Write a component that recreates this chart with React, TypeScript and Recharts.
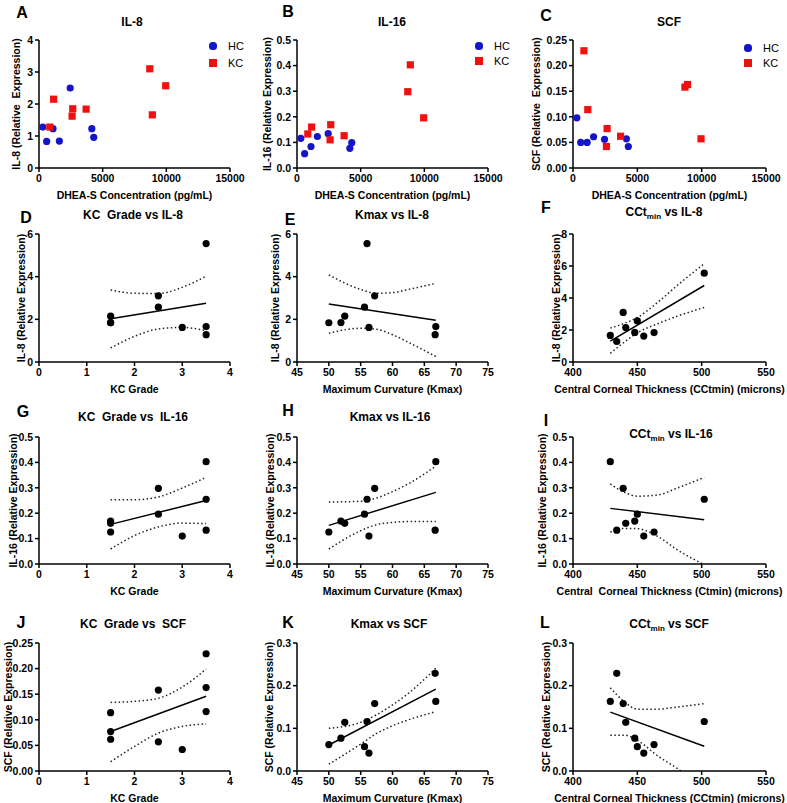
import { ComposedChart, Line, Scatter, XAxis, YAxis } from 'recharts'

// healthy controls, panels A-C
const hcDhea = [300, 600, 1100, 1600, 2450, 4150, 4300]
const hcIl8 = [1.28, 0.83, 1.23, 0.84, 2.5, 1.23, 0.96]
const hcIl16 = [0.116, 0.056, 0.084, 0.123, 0.134, 0.077, 0.099]
const hcScf = [0.098, 0.05, 0.05, 0.061, 0.056, 0.057, 0.042]

// keratoconus patients (one entry per patient, no DHEA-S for the 5th)
const kcDhea = [3700, 2650, 1150, 9950, null, 2600, 8700, 8900, 850]
const kcGrade = [1.5, 1.5, 1.5, 2.5, 3.5, 3, 2.5, 3.5, 3.5]
const kcKmax = [50, 51.9, 52.5, 55.6, 56, 56.3, 57.2, 66.8, 66.7]
const kcCct = [463, 448, 441, 450, 502, 455, 439, 429, 434]
const kcIl8 = [1.84, 1.85, 2.15, 2.57, 5.55, 1.62, 3.1, 1.66, 1.28]
const kcIl16 = [0.126, 0.169, 0.16, 0.196, 0.255, 0.11, 0.298, 0.403, 0.133]
const kcScf = [0.062, 0.077, 0.114, 0.057, 0.116, 0.042, 0.158, 0.163, 0.229]

// regression lines + 95% bands
const gradeFitX = [1.5, 3.5]
const kmaxFitX = [50, 66.8]
const cctFitX = [429, 502]
const gradeBandX = [1.5, 2, 2.5, 3, 3.5]
const kmaxBandX = [50, 55, 57.5, 60, 62.5, 66.8]
const cctBandX = [429, 440, 450, 466, 481, 502]

const fitGradeIl8 = [2.03, 2.75]
const upGradeIl8 = [3.38, 3.22, 3.21, 3.5, 4.02]
const loGradeIl8 = [0.66, 1.2, 1.55, 1.62, 1.47]
const fitKmaxIl8 = [2.72, 1.96]
const upKmaxIl8 = [4.08, 3.4, 3.22, 3.25, 3.4, 3.69]
const loKmaxIl8 = [1.35, 1.58, 1.53, 1.28, 0.92, 0.26]
const fitCctIl8 = [1.31, 4.78]
const upCctIl8 = [2.12, 2.42, 2.78, 3.74, 4.78, 6.15]
const loCctIl8 = [0.54, 1.25, 1.82, 2.4, 2.86, 3.41]

const fitGradeIl16 = [0.156, 0.25]
const upGradeIl16 = [0.253, 0.253, 0.264, 0.299, 0.341]
const loGradeIl16 = [0.059, 0.112, 0.146, 0.161, 0.159]
const fitKmaxIl16 = [0.152, 0.282]
const upKmaxIl16 = [0.244, 0.247, 0.26, 0.285, 0.316, 0.385]
const loKmaxIl16 = [0.059, 0.131, 0.155, 0.164, 0.167, 0.167]
const fitCctIl16 = [0.219, 0.174]
const upCctIl16 = [0.315, 0.282, 0.267, 0.272, 0.299, 0.341]
const loCctIl16 = [0.126, 0.14, 0.139, 0.108, 0.056, -0.003]

const fitGradeScf = [0.077, 0.146]
const upGradeScf = [0.134, 0.136, 0.142, 0.164, 0.199]
const loGradeScf = [0.018, 0.048, 0.074, 0.087, 0.092]
const fitKmaxScf = [0.061, 0.192]
const upKmaxScf = [0.1, 0.114, 0.132, 0.155, 0.182, 0.241]
const loKmaxScf = [0.016, 0.063, 0.088, 0.106, 0.12, 0.139]
const fitCctScf = [0.138, 0.058]
const upCctScf = [0.195, 0.162, 0.145, 0.145, 0.15, 0.158]
const loCctScf = [0.084, 0.084, 0.072, 0.035, 0.006, -0.045]

type Pt = { x: number, y: number }

const pts = (xs: (number | null)[], ys: number[]): Pt[] =>
  xs.flatMap((x, i) => (x == null ? [] : [{ x, y: ys[i] }]))

const FONT = '"Liberation Sans", Arial, Helvetica, sans-serif'
const BLUE = '#1414c8'
const RED = '#f01010'

const YW = 60
const MT = 6
const MR = 20
const XH = 42

const cols = [{ left: 39, right: 230 }, { left: 297, right: 488 }, { left: 573, right: 766 }]
const rows = [{ top: 40, bottom: 168 }, { top: 234, bottom: 362 }, { top: 437, bottom: 564 }, { top: 643, bottom: 771 }]

const axisStyle = { stroke: '#000', strokeWidth: 1.5 }
const tickStyle = { fill: '#000', fontSize: 10.5, fontWeight: 700 }

const dot = (color: string) => (p: any) => <circle cx={p.cx} cy={p.cy} r={3.6} fill={color} />
const square = (color: string) => (p: any) => (
  <rect x={p.cx - 3.6} y={p.cy - 3.6} width={7.2} height={7.2} fill={color} />
)

type AxisDef = { domain: [number, number], ticks: number[], digits?: number }

const dheaAxis: AxisDef = { domain: [0, 15000], ticks: [0, 5000, 10000, 15000] }
const gradeAxis: AxisDef = { domain: [0, 4], ticks: [0, 1, 2, 3, 4] }
const kmaxAxis: AxisDef = { domain: [45, 75], ticks: [45, 50, 55, 60, 65, 70, 75] }
const cctAxis: AxisDef = { domain: [400, 550], ticks: [400, 450, 500, 550] }

interface PanelProps {
  col: number
  row: number
  x: AxisDef
  y: AxisDef
  xLabel: string
  yLabel: string
  yLabelX: number
  groups: { data: Pt[], color: string, square?: boolean }[]
  fit?: Pt[]
  upper?: Pt[]
  lower?: Pt[]
}

function Panel({ col, row, x, y, xLabel, yLabel, yLabelX, groups, fit, upper, lower }: PanelProps) {
  const c = cols[col]
  const r = rows[row]
  const w = c.right - c.left
  const h = r.bottom - r.top
  const left = c.left - YW
  const band = (data: Pt[]) => (
    <Line data={data} dataKey="y" type="monotone" stroke="#222" strokeWidth={1.5}
      strokeDasharray="1.5 2.5" dot={false} activeDot={false} isAnimationActive={false} />
  )
  return (
    <div style={{ position: 'absolute', left, top: r.top - MT }}>
      <ComposedChart width={w + YW + MR} height={h + MT + XH} margin={{ top: MT, right: MR, left: 0, bottom: 0 }}>
        <XAxis type="number" dataKey="x" domain={x.domain} ticks={x.ticks} interval={0} allowDataOverflow
          axisLine={axisStyle} tickLine={axisStyle} tickSize={4} tickMargin={3} tick={tickStyle} height={XH}
          label={{ value: xLabel, position: 'insideBottom', offset: 11, fill: '#000', fontSize: 10.5, fontWeight: 700 }} />
        <YAxis type="number" dataKey="y" domain={y.domain} ticks={y.ticks} interval={0} allowDataOverflow
          axisLine={axisStyle} tickLine={axisStyle} tickSize={4} tickMargin={2} tick={tickStyle} width={YW}
          tickFormatter={(v: number) => v.toFixed(y.digits ?? 0)}
          label={(p: any) => {
            const vb = p.viewBox
            const lx = yLabelX - left
            const cy = vb.y + vb.height / 2
            return (
              <text x={lx} y={cy} transform={`rotate(-90, ${lx}, ${cy})`} textAnchor="middle"
                dominantBaseline="central" fill="#000" fontSize={10.5} fontWeight={700}>
                {yLabel}
              </text>
            )
          }} />
        {upper && band(upper)}
        {lower && band(lower)}
        {fit && (
          <Line data={fit} dataKey="y" type="linear" stroke="#000" strokeWidth={1.5}
            dot={false} activeDot={false} isAnimationActive={false} />
        )}
        {groups.map((g, i) => (
          <Scatter key={i} data={g.data} shape={g.square ? square(g.color) : dot(g.color)} isAnimationActive={false} />
        ))}
      </ComposedChart>
    </div>
  )
}

function Text({ x, y, size, bold = true, children }: any) {
  return (
    <div style={{
      position: 'absolute', left: x, top: y, transform: 'translate(-50%, -50%)',
      fontSize: size, fontWeight: bold ? 700 : 400, whiteSpace: 'pre', lineHeight: 1,
    }}>
      {children}
    </div>
  )
}

function Legend({ x, y1, y2 }: { x: number, y1: number, y2: number }) {
  return (
    <>
      <div style={{ position: 'absolute', left: x - 3.6, top: y1 - 3.6, width: 7.2, height: 7.2, borderRadius: '50%', background: BLUE }} />
      <div style={{ position: 'absolute', left: x + 15, top: y1 - 6, fontSize: 11, lineHeight: '12px' }}>HC</div>
      <div style={{ position: 'absolute', left: x - 3.6, top: y2 - 3.6, width: 7.2, height: 7.2, background: RED }} />
      <div style={{ position: 'absolute', left: x + 15, top: y2 - 6, fontSize: 11, lineHeight: '12px' }}>KC</div>
    </>
  )
}

const Cct = ({ rest }: { rest: string }) => (
  <>CCt<sub style={{ fontSize: 8, lineHeight: 0 }}>min</sub>{rest}</>
)

export default function App() {
  const il8Label = 'IL-8 (Relative Expression)'
  const il16Label = 'IL-16 (Relative Expression)'
  const scfLabel = 'SCF (Relative Expression)'
  const y8: AxisDef = { domain: [0, 6], ticks: [0, 2, 4, 6] }
  const y16: AxisDef = { domain: [0, 0.5], ticks: [0, 0.1, 0.2, 0.3, 0.4, 0.5], digits: 1 }
  const yScf: AxisDef = { domain: [0, 0.25], ticks: [0, 0.05, 0.1, 0.15, 0.2, 0.25], digits: 2 }
  const yScf3: AxisDef = { domain: [0, 0.3], ticks: [0, 0.1, 0.2, 0.3], digits: 1 }
  const kc = (xs: number[], ys: number[]) => [{ data: pts(xs, ys), color: '#000' }]

  return (
    <div style={{ position: 'absolute', left: 0, top: 0, width: 787, height: 803, background: '#fff', fontFamily: FONT, color: '#000' }}>
      {/* row 1: DHEA-S */}
      <Panel col={0} row={0} x={dheaAxis} y={{ domain: [0, 4], ticks: [0, 1, 2, 3, 4] }}
        xLabel="DHEA-S Concentration (pg/mL)" yLabel={'IL-8 (Relative\u00a0 Expression)'} yLabelX={16}
        groups={[{ data: pts(hcDhea, hcIl8), color: BLUE }, { data: pts(kcDhea, kcIl8), color: RED, square: true }]} />
      <Panel col={1} row={0} x={dheaAxis} y={y16}
        xLabel="DHEA-S Concentration (pg/mL)" yLabel={il16Label} yLabelX={267}
        groups={[{ data: pts(hcDhea, hcIl16), color: BLUE }, { data: pts(kcDhea, kcIl16), color: RED, square: true }]} />
      <Panel col={2} row={0} x={dheaAxis} y={yScf}
        xLabel="DHEA-S Concentration (pg/mL)" yLabel={'SCF (Relative\u00a0 Expression)'} yLabelX={536}
        groups={[{ data: pts(hcDhea, hcScf), color: BLUE }, { data: pts(kcDhea, kcScf), color: RED, square: true }]} />

      {/* row 2: IL-8 */}
      <Panel col={0} row={1} x={gradeAxis} y={y8} xLabel="KC Grade" yLabel={il8Label} yLabelX={21}
        groups={kc(kcGrade, kcIl8)} fit={pts(gradeFitX, fitGradeIl8)}
        upper={pts(gradeBandX, upGradeIl8)} lower={pts(gradeBandX, loGradeIl8)} />
      <Panel col={1} row={1} x={kmaxAxis} y={y8} xLabel="Maximum Curvature (Kmax)" yLabel={il8Label} yLabelX={275}
        groups={kc(kcKmax, kcIl8)} fit={pts(kmaxFitX, fitKmaxIl8)}
        upper={pts(kmaxBandX, upKmaxIl8)} lower={pts(kmaxBandX, loKmaxIl8)} />
      <Panel col={2} row={1} x={cctAxis} y={{ domain: [0, 8], ticks: [0, 2, 4, 6, 8] }}
        xLabel="Central Corneal Thickness (CCtmin) (microns)" yLabel={il8Label} yLabelX={556}
        groups={kc(kcCct, kcIl8)} fit={pts(cctFitX, fitCctIl8)}
        upper={pts(cctBandX, upCctIl8)} lower={pts(cctBandX, loCctIl8)} />

      {/* row 3: IL-16 */}
      <Panel col={0} row={2} x={gradeAxis} y={y16} xLabel="KC Grade" yLabel={il16Label} yLabelX={13}
        groups={kc(kcGrade, kcIl16)} fit={pts(gradeFitX, fitGradeIl16)}
        upper={pts(gradeBandX, upGradeIl16)} lower={pts(gradeBandX, loGradeIl16)} />
      <Panel col={1} row={2} x={kmaxAxis} y={y16} xLabel="Maximum Curvature (Kmax)" yLabel={il16Label} yLabelX={270}
        groups={kc(kcKmax, kcIl16)} fit={pts(kmaxFitX, fitKmaxIl16)}
        upper={pts(kmaxBandX, upKmaxIl16)} lower={pts(kmaxBandX, loKmaxIl16)} />
      <Panel col={2} row={2} x={cctAxis} y={y16}
        xLabel={'Central\u00a0 Corneal Thickness (Ctmin) (microns)'} yLabel={il16Label} yLabelX={542}
        groups={kc(kcCct, kcIl16)} fit={pts(cctFitX, fitCctIl16)}
        upper={pts(cctBandX, upCctIl16)} lower={pts(cctBandX, loCctIl16)} />

      {/* row 4: SCF */}
      <Panel col={0} row={3} x={gradeAxis} y={yScf} xLabel="KC Grade" yLabel={scfLabel} yLabelX={8}
        groups={kc(kcGrade, kcScf)} fit={pts(gradeFitX, fitGradeScf)}
        upper={pts(gradeBandX, upGradeScf)} lower={pts(gradeBandX, loGradeScf)} />
      <Panel col={1} row={3} x={kmaxAxis} y={yScf3} xLabel="Maximum Curvature (Kmax)" yLabel={scfLabel} yLabelX={269}
        groups={kc(kcKmax, kcScf)} fit={pts(kmaxFitX, fitKmaxScf)}
        upper={pts(kmaxBandX, upKmaxScf)} lower={pts(kmaxBandX, loKmaxScf)} />
      <Panel col={2} row={3} x={cctAxis} y={yScf3}
        xLabel="Central Corneal Thickness (CCtmin) (microns)" yLabel={scfLabel} yLabelX={546}
        groups={kc(kcCct, kcScf)} fit={pts(cctFitX, fitCctScf)}
        upper={pts(cctBandX, upCctScf)} lower={pts(cctBandX, loCctScf)} />

      <Legend x={213} y1={46} y2={63} />
      <Legend x={479} y1={46} y2={61} />
      <Legend x={748} y1={48} y2={63} />

      {/* titles */}
      <Text x={132} y={22} size={12}>IL-8</Text>
      <Text x={392} y={22} size={12}>IL-16</Text>
      <Text x={669} y={22} size={12}>SCF</Text>
      <Text x={133} y={215} size={12}>KC  Grade vs IL-8</Text>
      <Text x={392} y={215} size={12}>Kmax vs IL-8</Text>
      <Text x={664} y={212} size={12}><Cct rest=" vs IL-8" /></Text>
      <Text x={133} y={417} size={12}>KC  Grade vs  IL-16</Text>
      <Text x={390} y={417} size={12}>Kmax vs IL-16</Text>
      <Text x={671} y={434} size={12}><Cct rest=" vs IL-16" /></Text>
      <Text x={133} y={624} size={12}>KC  Grade vs  SCF</Text>
      <Text x={389} y={624} size={12}>Kmax vs SCF</Text>
      <Text x={669} y={624} size={12}><Cct rest=" vs SCF" /></Text>

      {/* panel letters */}
      <Text x={22} y={13} size={16}>A</Text>
      <Text x={288} y={12} size={16}>B</Text>
      <Text x={546} y={16} size={16}>C</Text>
      <Text x={26} y={218} size={16}>D</Text>
      <Text x={290} y={220} size={16}>E</Text>
      <Text x={546} y={208} size={16}>F</Text>
      <Text x={23} y={412} size={16}>G</Text>
      <Text x={288} y={411} size={16}>H</Text>
      <Text x={546} y={421} size={16}>I</Text>
      <Text x={21} y={623} size={16}>J</Text>
      <Text x={288} y={623} size={16}>K</Text>
      <Text x={545} y={623} size={16}>L</Text>
    </div>
  )
}
